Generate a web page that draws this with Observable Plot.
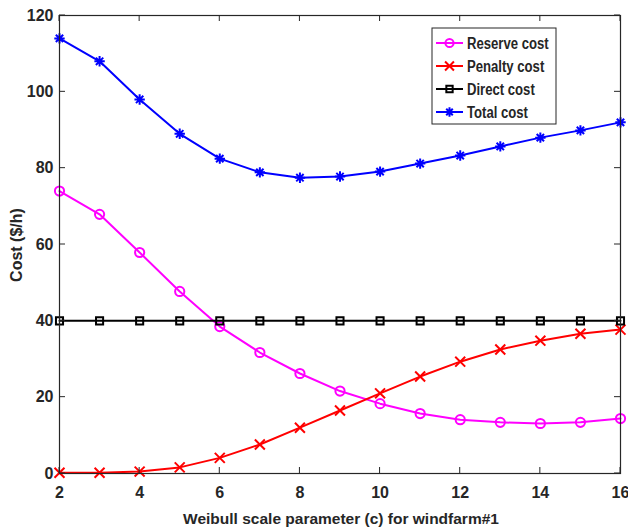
<!DOCTYPE html>
<html>
<head>
<meta charset="utf-8">
<script src="https://cdn.jsdelivr.net/npm/d3@7"></script>
<script src="https://cdn.jsdelivr.net/npm/@observablehq/plot@0.6"></script>
<style>
  html, body { margin: 0; padding: 0; background: #fff; }
  #chart { position: relative; width: 628px; height: 531px; }
</style>
</head>
<body>
<div id="chart"></div>
<script>
// Weibull scale parameter c for windfarm #1
const scaleParam = [2, 3, 4, 5, 6, 7, 8, 9, 10, 11, 12, 13, 14, 15, 16];

// Cost components ($/h)
const reserveCost = [74, 67.9, 57.9, 47.7, 38.5, 31.7, 26.2, 21.6, 18.3, 15.7, 14.1, 13.4, 13.1, 13.4, 14.4];
const penaltyCost = [0.2, 0.2, 0.5, 1.6, 4.1, 7.6, 12, 16.5, 21, 25.4, 29.3, 32.5, 34.8, 36.6, 37.7];
const directCost  = [40, 40, 40, 40, 40, 40, 40, 40, 40, 40, 40, 40, 40, 40, 40];
const totalCost   = [114, 108, 98, 89, 82.5, 78.9, 77.5, 77.8, 79.1, 81.2, 83.3, 85.7, 88, 89.9, 92];

const xTicks = [2, 4, 6, 8, 10, 12, 14, 16];
const yTicks = [0, 20, 40, 60, 80, 100, 120];

// Eight-armed asterisk marker
const asterisk8 = {
  draw(ctx, size) {
    const r = Math.sqrt(size / Math.PI);
    for (let i = 0; i < 4; i++) {
      const a = (i * Math.PI) / 4;
      const dx = r * Math.cos(a), dy = r * Math.sin(a);
      ctx.moveTo(-dx, -dy);
      ctx.lineTo(dx, dy);
    }
  }
};

const seriesDefs = [
  {name: "Reserve cost", values: reserveCost, color: "#FF00FF", symbol: "circle", r: 4.6},
  {name: "Penalty cost", values: penaltyCost, color: "#FF0000", symbol: "times", r: 4.6},
  {name: "Direct cost",  values: directCost,  color: "#000000", symbol: "square", r: 4.0},
  {name: "Total cost",   values: totalCost,   color: "#0000FF", symbol: asterisk8, r: 5.2}
];

const rows = seriesDefs.flatMap(s =>
  scaleParam.map((c, i) => ({c, cost: s.values[i], series: s.name}))
);

const textColor = "#262626";
const font = "'Liberation Sans', Arial, sans-serif";

const marks = [];
for (const s of seriesDefs) {
  const data = rows.filter(d => d.series === s.name);
  marks.push(Plot.line(data, {x: "c", y: "cost", stroke: s.color, strokeWidth: 2}));
  marks.push(Plot.dot(data, {x: "c", y: "cost", stroke: s.color, strokeWidth: 2, symbol: () => s.symbol, r: s.r, fill: "none"}));
}

const plot = Plot.plot({
  width: 628,
  height: 531,
  marginLeft: 59,
  marginRight: 8,
  marginTop: 15,
  marginBottom: 58,
  style: {fontFamily: font, background: "#fff", overflow: "visible"},
  x: {domain: [2, 16]},
  y: {domain: [0, 120]},
  symbol: {type: "identity"},
  marks: [
    ...marks,
    Plot.frame({stroke: textColor, strokeWidth: 1.2}),
    // tick labels
    Plot.axisX(xTicks, {anchor: "bottom", tickSize: 0, tickPadding: 13, label: null, fontSize: 16, fontWeight: "bold", fill: textColor}),
    Plot.axisY(yTicks, {anchor: "left", tickSize: 0, tickPadding: 6, label: null, fontSize: 16, fontWeight: "bold", fill: textColor})
  ]
});

const svg = d3.select(plot);
const sx = plot.scale("x"), sy = plot.scale("y");
const [x0, x1] = sx.range, [y0, y1] = sy.range; // y0 bottom, y1 top
const tickLen = 6;

// inward ticks on all four sides
const tg = svg.append("g").attr("stroke", textColor).attr("stroke-width", 1);
for (const t of xTicks) {
  const px = sx.apply(t);
  tg.append("line").attr("x1", px).attr("x2", px).attr("y1", y0).attr("y2", y0 - tickLen);
  tg.append("line").attr("x1", px).attr("x2", px).attr("y1", y1).attr("y2", y1 + tickLen);
}
for (const t of yTicks) {
  const py = sy.apply(t);
  tg.append("line").attr("y1", py).attr("y2", py).attr("x1", x0).attr("x2", x0 + tickLen);
  tg.append("line").attr("y1", py).attr("y2", py).attr("x1", x1).attr("x2", x1 - tickLen);
}

// axis titles
svg.append("text")
  .attr("x", 341).attr("y", 524)
  .attr("text-anchor", "middle")
  .attr("font-size", 15.5).attr("font-weight", "bold")
  .attr("fill", textColor)
  .text("Weibull scale parameter (c) for windfarm#1");

svg.append("text")
  .attr("transform", "translate(22,245) rotate(-90)")
  .attr("text-anchor", "middle")
  .attr("font-size", 16).attr("font-weight", "bold")
  .attr("fill", textColor)
  .text("Cost ($/h)");

// legend
const lg = svg.append("g").attr("transform", "translate(432,28)");
lg.append("rect").attr("width", 124).attr("height", 96)
  .attr("fill", "#fff").attr("stroke", textColor).attr("stroke-width", 1);
seriesDefs.forEach((s, i) => {
  const y = 15 + i * 23;
  const row = lg.append("g").attr("transform", `translate(0,${y})`);
  row.append("line").attr("x1", 4).attr("x2", 31).attr("y1", 0).attr("y2", 0)
    .attr("stroke", s.color).attr("stroke-width", 2);
  const sym = typeof s.symbol === "string"
    ? {circle: d3.symbolCircle, times: d3.symbolTimes, square: d3.symbolSquare}[s.symbol]
    : s.symbol;
  row.append("path")
    .attr("transform", "translate(17.5,0)")
    .attr("d", d3.symbol(sym, Math.PI * s.r * s.r * 0.8)())
    .attr("fill", "none").attr("stroke", s.color).attr("stroke-width", 2);
  // condensed bold label
  row.append("text")
    .attr("transform", "translate(35,0) scale(0.82,1)")
    .attr("dy", "0.36em")
    .attr("text-anchor", "start")
    .attr("font-size", 16).attr("font-weight", "bold").attr("fill", textColor)
    .text(s.name);
});

document.getElementById("chart").appendChild(plot);
</script>
</body>
</html>
